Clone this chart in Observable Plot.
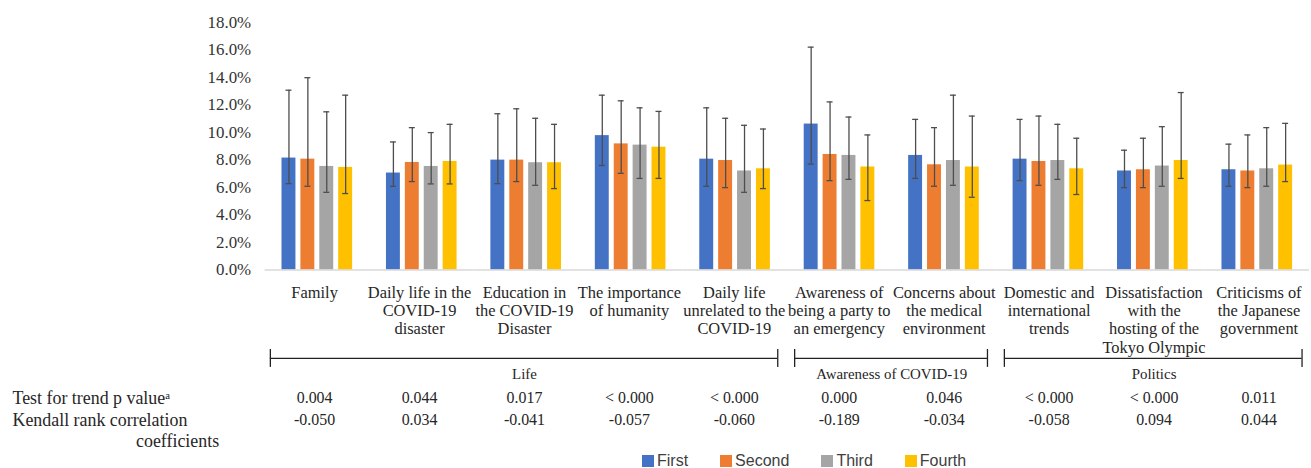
<!DOCTYPE html>
<html>
<head>
<meta charset="utf-8">
<script src="https://cdn.jsdelivr.net/npm/d3@7"></script>
<script src="https://cdn.jsdelivr.net/npm/@observablehq/plot@0.6"></script>
<style>
  html, body { margin: 0; padding: 0; background: #fff; }
  #wrap { position: relative; width: 1311px; height: 468px; overflow: hidden; background: #fff; }
  #wrap svg { display: block; overflow: visible; }
  #legend { position: absolute; top: 454px; left: 642px; display: flex; gap: 32px;
            font-family: "Liberation Sans", Arial, sans-serif; font-size: 16px; color: #404040; line-height: 14px; }
  #legend .item { display: flex; align-items: center; }
  #legend .sw { display: inline-block; width: 12px; height: 12px; margin-right: 3px; }
</style>
</head>
<body>
<div id="wrap"></div>
<script>
// ---- data ----
const categories = [
  "Family",
  "Daily life in the\nCOVID-19\ndisaster",
  "Education in\nthe COVID-19\nDisaster",
  "The importance\nof humanity",
  "Daily life\nunrelated to the\nCOVID-19",
  "Awareness of\nbeing a party to\nan emergency",
  "Concerns about\nthe medical\nenvironment",
  "Domestic and\ninternational\ntrends",
  "Dissatisfaction\nwith the\nhosting of the\nTokyo Olympic",
  "Criticisms of\nthe Japanese\ngovernment"
];
const series = ["First", "Second", "Third", "Fourth"];
const colors = ["#4472C4", "#ED7D31", "#A5A5A5", "#FFC000"];

// mean (%) and error-bar bounds (%) per series, one value per category
const firstMean  = [8.14, 7.05, 7.99, 9.77, 8.06, 10.61, 8.33, 8.06, 7.20, 7.29];
const firstLow   = [6.28, 6.09, 6.28, 7.60, 6.09, 7.70, 6.66, 6.50, 5.99, 6.09];
const firstHigh  = [13.07, 9.31, 11.36, 12.71, 11.79, 16.20, 10.95, 10.95, 8.71, 9.15];
const secondMean = [8.06, 7.82, 7.99, 9.17, 7.96, 8.40, 7.65, 7.89, 7.29, 7.20];
const secondLow  = [6.09, 6.43, 6.43, 7.03, 5.99, 6.50, 6.09, 6.16, 5.99, 5.99];
const secondHigh = [13.98, 10.35, 11.72, 12.30, 11.03, 12.22, 10.35, 11.19, 9.58, 9.82];
const thirdMean  = [7.53, 7.53, 7.80, 9.08, 7.20, 8.33, 7.96, 7.96, 7.56, 7.36];
const thirdLow   = [5.65, 6.26, 6.16, 6.66, 5.65, 6.59, 6.16, 6.59, 6.09, 6.09];
const thirdHigh  = [11.50, 9.99, 11.03, 11.79, 10.52, 11.12, 12.71, 10.59, 10.42, 10.35];
const fourthMean = [7.46, 7.89, 7.80, 8.93, 7.36, 7.49, 7.49, 7.36, 7.96, 7.63];
const fourthLow  = [5.56, 6.26, 5.92, 6.66, 5.92, 5.05, 5.29, 5.49, 6.66, 6.43];
const fourthHigh = [12.71, 10.59, 10.59, 11.53, 10.25, 9.82, 11.19, 9.58, 12.90, 10.66];

const yTicks = [0, 2, 4, 6, 8, 10, 12, 14, 16, 18];

const groupNames = ["Life", "Awareness of COVID-19", "Politics"];
const groupSizes = [5, 2, 3];

const rowLabel1 = "Test for trend p value\u1D43";
const rowLabel2a = "Kendall rank correlation";
const rowLabel2b = "coefficients";
const pValues = ["0.004", "0.044", "0.017", "< 0.000", "< 0.000", "0.000", "0.046", "< 0.000", "< 0.000", "0.011"];
const kendall = ["-0.050", "0.034", "-0.041", "-0.057", "-0.060", "-0.189", "-0.034", "-0.058", "0.094", "0.044"];

// ---- build table ----
const meanBy = [firstMean, secondMean, thirdMean, fourthMean];
const lowBy = [firstLow, secondLow, thirdLow, fourthLow];
const highBy = [firstHigh, secondHigh, thirdHigh, fourthHigh];
const rows = [];
categories.forEach((c, i) => series.forEach((s, j) => {
  rows.push({cat: c, series: s, mean: meanBy[j][i], lo: lowBy[j][i], hi: highBy[j][i]});
}));
let acc = 0;
const groups = groupNames.map((g, k) => {
  const start = acc; acc += groupSizes[k];
  return {name: g, start, end: acc, mid: (start + acc) / 2};
});

const W = 1318, ML = 263, MR = 0;
const serif = "'Liberation Serif', 'Times New Roman', serif";
const textColor = "#262626";
const wrap = document.getElementById("wrap");

// ---- main chart ----
const main = Plot.plot({
  width: W, height: 276,
  marginLeft: ML, marginRight: MR, marginTop: 22, marginBottom: 5,
  style: {fontFamily: serif, fontSize: "17px", color: "#333", background: "none", overflow: "visible"},
  facet: {data: rows, x: "cat"},
  fx: {domain: categories, padding: 0, axis: null, label: null},
  x: {domain: series, paddingInner: 0.25, paddingOuter: 0.85, axis: null},
  y: {domain: [0, 18], ticks: yTicks, tickFormat: d => d.toFixed(1) + "%", tickSize: 0, tickPadding: 14, label: null},
  color: {domain: series, range: colors},
  marks: [
    Plot.barY(rows, {x: "series", y: "mean", fill: "series"}),
    Plot.ruleY([0], {stroke: "#d9d9d9", strokeWidth: 1.5}),
    Plot.ruleX(rows, {x: "series", y1: "lo", y2: "hi", stroke: "#4d4d4d", strokeWidth: 1.3}),
    Plot.tickY(rows, {x: "series", y: "hi", stroke: "#4d4d4d", strokeWidth: 1.3, insetLeft: 4, insetRight: 4}),
    Plot.tickY(rows, {x: "series", y: "lo", stroke: "#4d4d4d", strokeWidth: 1.3, insetLeft: 4, insetRight: 4})
  ]
});
wrap.appendChild(main);

const lowerBase = {
  width: W, marginLeft: ML, marginRight: MR, marginTop: 0, marginBottom: 0,
  style: {fontFamily: serif, color: textColor, background: "none", overflow: "visible"},
  x: {domain: [0, categories.length], axis: null}
};

// ---- category labels ----
const labels = Plot.plot({
  ...lowerBase, height: 75,
  marks: [
    Plot.text(categories, {x: (d, i) => i + 0.5, text: d => d, frameAnchor: "top", lineAnchor: "top",
      dy: 9, lineHeight: 1.12, fontSize: 16.5, fill: textColor})
  ]
});
wrap.appendChild(labels);

// ---- group brackets ----
const brackets = Plot.plot({
  ...lowerBase, height: 18,
  y: {domain: [-1, 1], axis: null},
  marks: [
    Plot.ruleY(groups, {x1: "start", x2: "end", y: () => 0, insetLeft: 8, insetRight: 9, stroke: "#222", strokeWidth: 1.3}),
    Plot.ruleX(groups, {x: "start", dx: 8, stroke: "#222", strokeWidth: 1.3}),
    Plot.ruleX(groups, {x: "end", dx: -9, stroke: "#222", strokeWidth: 1.3})
  ]
});
wrap.appendChild(brackets);

// ---- group names and test table ----
const table = Plot.plot({
  ...lowerBase, height: 99,
  marks: [
    Plot.text(groups, {x: "mid", text: "name", frameAnchor: "top", lineAnchor: "middle", dy: 7, fontSize: 15, fill: textColor}),
    Plot.text([rowLabel1], {text: d => d, frameAnchor: "top-left", textAnchor: "start", lineAnchor: "middle", dx: -251, dy: 31, fontSize: 18, fill: textColor}),
    Plot.text([rowLabel2a], {text: d => d, frameAnchor: "top-left", textAnchor: "start", lineAnchor: "middle", dx: -251, dy: 53, fontSize: 18, fill: textColor}),
    Plot.text([rowLabel2b], {text: d => d, frameAnchor: "top-left", textAnchor: "middle", lineAnchor: "middle", dx: -85, dy: 74, fontSize: 18, fill: textColor}),
    Plot.text(pValues, {x: (d, i) => i + 0.5, text: d => d, frameAnchor: "top", lineAnchor: "middle", dy: 31, fontSize: 16, fill: textColor}),
    Plot.text(kendall, {x: (d, i) => i + 0.5, text: d => d, frameAnchor: "top", lineAnchor: "middle", dy: 53, fontSize: 16, fill: textColor})
  ]
});
wrap.appendChild(table);

// ---- legend ----
const legend = document.createElement("div");
legend.id = "legend";
series.forEach((s, j) => {
  const item = document.createElement("div");
  item.className = "item";
  const sw = document.createElement("span");
  sw.className = "sw";
  sw.style.background = colors[j];
  const lab = document.createElement("span");
  lab.textContent = s;
  item.appendChild(sw); item.appendChild(lab);
  legend.appendChild(item);
});
wrap.appendChild(legend);
</script>
</body>
</html>
